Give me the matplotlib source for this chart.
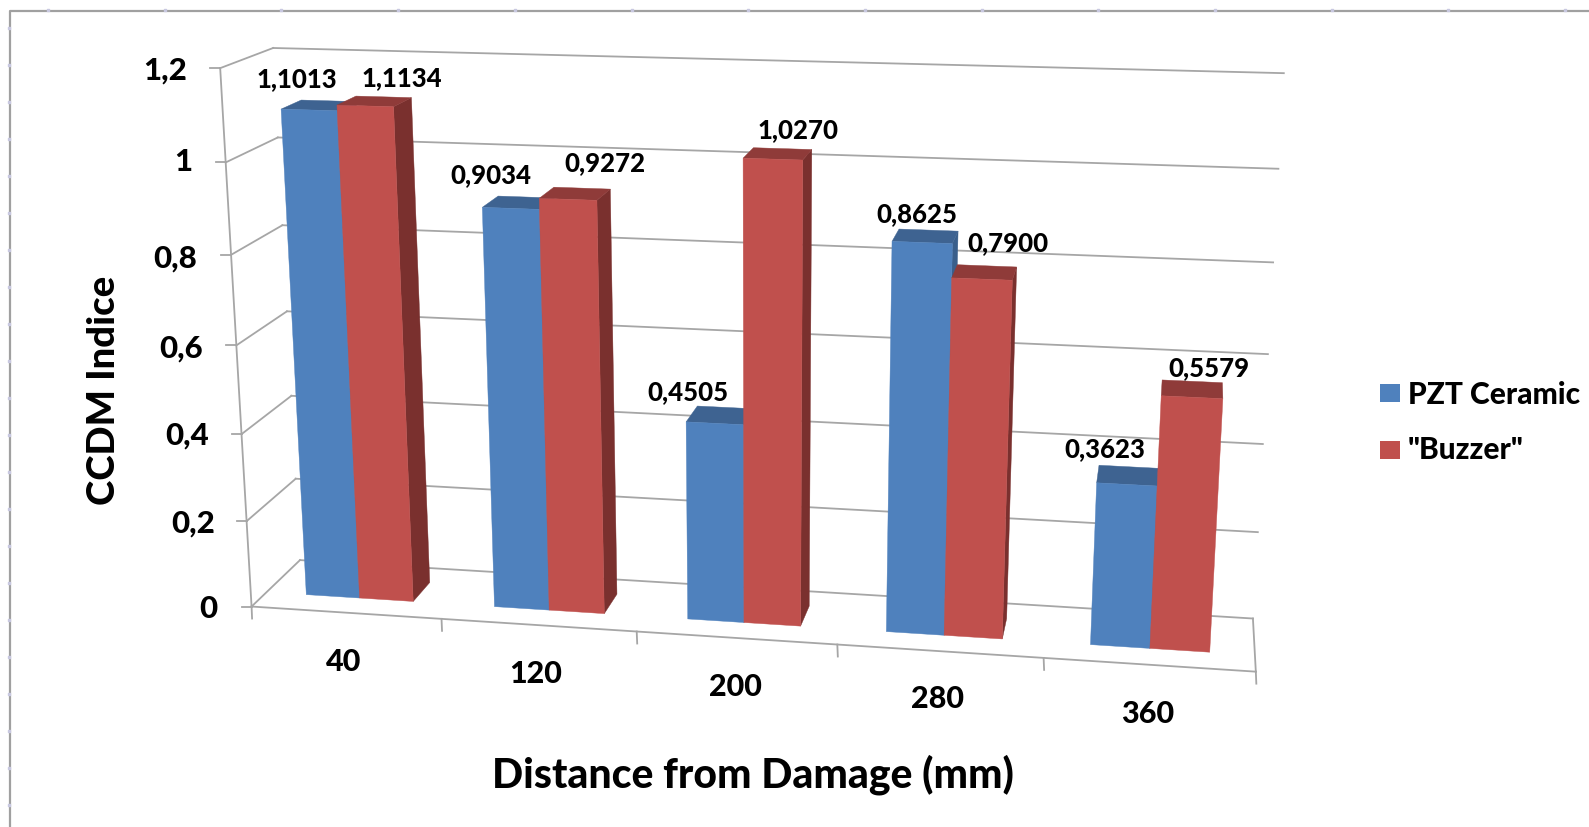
import numpy as np
import matplotlib
matplotlib.use('Agg')
import matplotlib.pyplot as plt
from matplotlib.patches import Polygon, Rectangle

# data
categories = ['40', '120', '200', '280', '360']
pzt_values = [1.1013, 0.9034, 0.4505, 0.8625, 0.3623]
buzzer_values = [1.1134, 0.9272, 1.0270, 0.7900, 0.5579]
pzt_labels = ['1,1013', '0,9034', '0,4505', '0,8625', '0,3623']
buzzer_labels = ['1,1134', '0,9272', '1,0270', '0,7900', '0,5579']
y_ticks = [0, 0.2, 0.4, 0.6, 0.8, 1.0, 1.2]
y_tick_labels = ['0', '0,2', '0,4', '0,6', '0,8', '1', '1,2']

# label centres in picture pixels
pzt_label_pos = [(297, 79), (491, 175), (688, 392), (917, 214), (1105, 449)]
buzzer_label_pos = [(402, 78), (605, 163), (798, 130), (1008, 243), (1209, 368)]
y_label_pos = [(208, 609), (193, 524), (187, 436), (181, 349), (175, 259), (183, 162), (165, 71)]
x_label_pos = [(344, 662), (536, 674), (735, 687), (938, 699), (1148, 714)]

BLUE, BLUE_TOP, BLUE_SIDE = '#4f81bd', '#3e6391', '#3a5f8b'
RED, RED_TOP, RED_SIDE = '#c0504d', '#8f3b39', '#7a302e'
GRID = '#a6a6a6'
FONT = 'Lato'

# perspective of the 3D box: (category pos, depth, value) -> picture pixel
calib_world = [
    (0, 0, 0), (0, 0, .2), (0, 0, .8), (0, 0, 1), (0, 0, 1.2),
    (0, 1, 0), (0, 1, 1.2),
    (5, 1, 0), (5, 1, .2), (5, 1, .4), (5, 1, .6), (5, 1, .8), (5, 1, 1), (5, 1, 1.2),
    (5, 0, 0), (1, 0, 0),
    (.214, .3, 0), (.5, .3, 0), (.786, .3, 0), (.786, .7, 0),
    (4.214, .3, 0), (4.5, .3, 0), (4.786, .3, 0),
    (.5, .3, 1.1134), (.786, .3, 1.1134), (.5, .7, 1.1134), (.786, .7, 1.1134),
    (4.5, .3, .5579), (4.786, .3, .5579), (4.5, .7, .5579), (4.786, .7, .5579),
]
calib_pixel = [
    (251.7, 607.3), (246.6, 520.7), (230.7, 254), (226.3, 161.7), (220, 68.3),
    (301, 560.5), (272.7, 47.7),
    (1252.7, 618.3), (1258, 532.3), (1263.3, 444.3), (1267.5, 354), (1273.5, 262.3), (1278.6, 168.3), (1283.6, 73.3),
    (1255.7, 672), (442.3, 620),
    (306, 594.3), (359, 597.7), (412.7, 601.3), (429.3, 581.7),
    (1090.7, 644.3), (1150, 648.3), (1209.3, 652.3),
    (337.3, 105), (394.3, 107.3), (355, 96.7), (411.7, 98.3),
    (1161.7, 396), (1222.3, 398.3), (1162.3, 380), (1222.3, 382.7),
]


def fit_projection(world, pixel):
    rows = []
    for (x, d, z), (u, v) in zip(world, pixel):
        u, v = u / 1000, v / 1000
        rows.append([x, d, z, 1, 0, 0, 0, 0, -u * x, -u * d, -u * z, -u])
        rows.append([0, 0, 0, 0, x, d, z, 1, -v * x, -v * d, -v * z, -v])
    _, _, vt = np.linalg.svd(np.array(rows, dtype=float))
    return vt[-1].reshape(3, 4)


P = fit_projection(calib_world, calib_pixel)


def project(x, d, z):
    u, v, w = P @ np.array([x, d, z, 1.0])
    return 1000 * u / w, 1000 * v / w


fig = plt.figure(figsize=(15.89, 8.27), dpi=100, facecolor='white')
ax = fig.add_axes([0, 0, 1, 1])
ax.set_xlim(0, 1589)
ax.set_ylim(827, 0)
ax.axis('off')


def line3d(a, b, **kw):
    pa, pb = project(*a), project(*b)
    ax.plot([pa[0], pb[0]], [pa[1], pb[1]], color=GRID, lw=1.3, zorder=1, **kw)


# outer chart frame with the little sheet marks
ax.plot([10, 10, 1589], [827, 11, 11], color='#a0a0a0', lw=1.6, zorder=0)
top_marks = np.arange(48, 1589, 116.7)
left_marks = np.arange(28, 827, 37)
ax.scatter(top_marks, np.full(len(top_marks), 9.5), s=3, color='#c8c8e0', marker='s', zorder=0)
ax.scatter(np.full(len(left_marks), 8.5), left_marks, s=3, color='#c8c8e0', marker='s', zorder=0)

# walls and floor
n = len(categories)
for t in y_ticks:
    line3d((0, 1, t), (n, 1, t))
    line3d((0, 0, t), (0, 1, t))
    px, py = project(0, 0, t)
    ax.plot([px - 10, px], [py, py], color=GRID, lw=1.3, zorder=1)
line3d((0, 0, 0), (0, 0, 1.2))
line3d((0, 0, 0), (n, 0, 0))
line3d((n, 0, 0), (n, 1, 0))
for i in range(n + 1):
    px, py = project(i, 0, 0)
    ax.plot([px, px + 0.5], [py, py + 12], color=GRID, lw=1.3, zorder=1)


def add_face(corners, color, z):
    pts = [project(*c) for c in corners]
    ax.add_patch(Polygon(pts, closed=True, facecolor=color, edgecolor=color, lw=0.3, zorder=z))


def draw_bar(x0, x1, value, front, top, side, z):
    d0, d1 = 0.3, 0.7
    # side face only shows while the bar is left of the viewer
    if project(x1, d1, value)[0] > project(x1, d0, value)[0]:
        add_face([(x1, d0, 0), (x1, d1, 0), (x1, d1, value), (x1, d0, value)], side, z)
    add_face([(x0, d0, value), (x1, d0, value), (x1, d1, value), (x0, d1, value)], top, z)
    add_face([(x0, d0, 0), (x1, d0, 0), (x1, d0, value), (x0, d0, value)], front, z)


# gap width 150%: two bars share 2/3.5 of a slot
w = 1 / 3.5
for i in range(n):
    z = 2 + i
    draw_bar(i + 0.75 * w, i + 1.75 * w, pzt_values[i], BLUE, BLUE_TOP, BLUE_SIDE, z)
    draw_bar(i + 1.75 * w, i + 2.75 * w, buzzer_values[i], RED, RED_TOP, RED_SIDE, z + 0.5)

text_kw = dict(family=FONT, fontweight='black', color='black', ha='center', va='center', zorder=20)

for txt, pos in zip(pzt_labels + buzzer_labels, pzt_label_pos + buzzer_label_pos):
    ax.text(pos[0], pos[1], txt, fontsize=18.5, **text_kw)
for txt, pos in zip(y_tick_labels, y_label_pos):
    ax.text(pos[0], pos[1], txt, fontsize=22.5, **text_kw)
for txt, pos in zip(categories, x_label_pos):
    ax.text(pos[0], pos[1], txt, fontsize=22, **text_kw)

ax.text(753, 775, 'Distance from Damage (mm)', fontsize=29.4, **text_kw)
ax.text(104, 390, 'CCDM Indice', fontsize=27.5, rotation=90, **text_kw)

# legend
ax.add_patch(Rectangle((1380, 384), 19.5, 18, facecolor=BLUE, edgecolor='none'))
ax.add_patch(Rectangle((1380, 441), 19.5, 18, facecolor=RED, edgecolor='none'))
ax.text(1408, 395, 'PZT Ceramic', fontsize=21.5, **{**text_kw, 'ha': 'left'})
ax.text(1408, 450, '"Buzzer"', fontsize=21.5, **{**text_kw, 'ha': 'left'})

fig.savefig('out.png', dpi=100, facecolor='white')
